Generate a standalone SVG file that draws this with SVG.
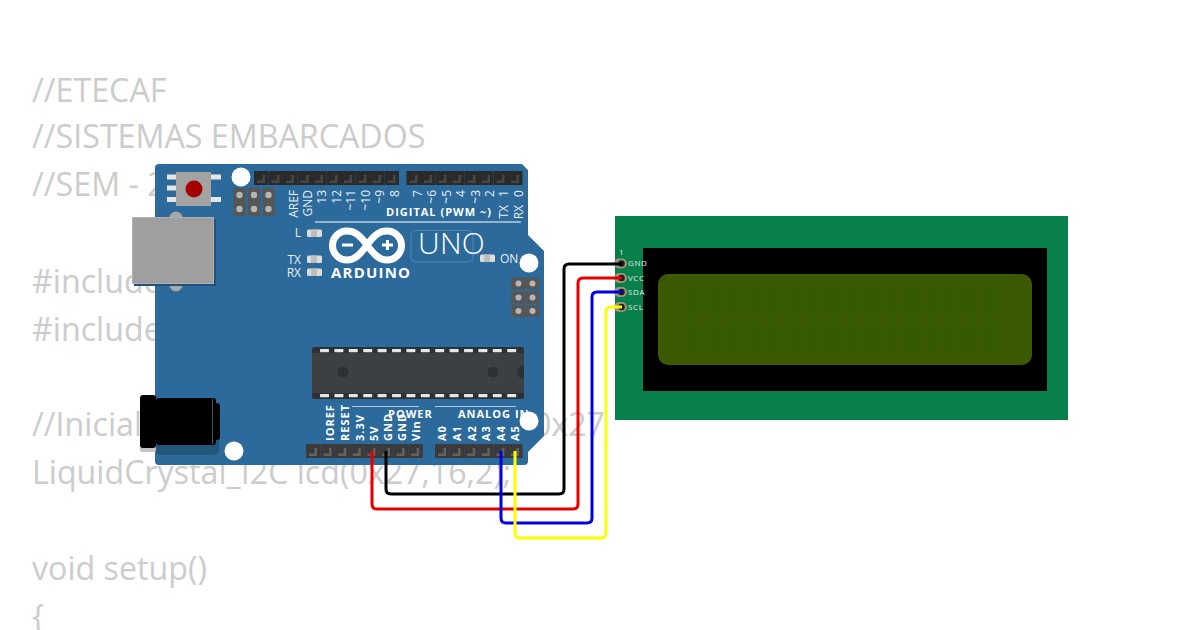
<svg xmlns="http://www.w3.org/2000/svg" xmlns:xlink="http://www.w3.org/1999/xlink" width="1200" height="630" viewBox="0 0 1200 630">
<style>
.code{font-family:"Open Sans","Noto Sans",sans-serif;font-size:32.2px;fill:#cccccc}
.s{font-family:"Open Sans","Noto Sans",sans-serif;font-size:12px;fill:#e8eef4}
.b{font-family:"Open Sans","Noto Sans",sans-serif;font-size:11px;font-weight:700;fill:#fff;letter-spacing:1px}
.lcdt{font-family:"Open Sans","Noto Sans",sans-serif;font-size:8px;fill:#e8e8e8;letter-spacing:.6px}
.wire{fill:none;stroke-width:3;stroke-linejoin:round}
.hole{fill:#fff}
.led{fill:#dcdcdc}
.cell{fill:#345a00}
.chipPin{fill:#e6e6e6}
</style>
<defs>
<g id="pinT"><rect width="14.5" height="14" fill="#2a2a2a"/><path d="M3 9.500H8.500V4H11V12H3Z" fill="#474744"/></g>
<g id="pinB"><rect width="14.6" height="14" fill="#3a3a3a"/><path d="M3 9.500H8.500V4H11V12H3Z" fill="#62625e"/></g>
<g id="led"><rect width="15" height="7.5" rx="1.5" class="led"/><rect x="4" width="6" height="7.5" fill="#bdbdbd"/></g>
<g id="icsp"><rect x="-6" y="-7" width="12" height="14" fill="#565656"/><circle r="3.2" fill="#b5b5b5"/></g>
<g id="icspR"><rect x="-7" y="-6" width="14" height="12" fill="#565656"/><circle r="3" fill="#b5b5b5"/></g>
<g id="chipPins"><rect width="9" height="3.2" rx=".6" class="chipPin"/></g>
<g id="lcdPad"><rect x="-6" y="-5" width="13" height="10" rx="5" fill="#9d9378"/><circle cx="1.5" r="3.2" fill="#1c1c1c"/></g>
</defs>

<g id="code-text">
<text class="code" x="32" y="101.500">//ETECAF</text>
<text class="code" x="32" y="147.500">//SISTEMAS EMBARCADOS</text>
<text class="code" x="32" y="195.500">//SEM - 2</text>
<text class="code" x="32" y="292.500">#include</text>
<text class="code" x="32" y="340.500">#include</text>
<text class="code" x="32" y="435.500">//Inicial</text>
<text class="code" x="605" y="435.500" text-anchor="end">0x27</text>
<text class="code" x="32" y="483.500">LiquidCrystal_I2C lcd(0x27,16,2);</text>
<text class="code" x="32" y="580">void setup()</text>
<text class="code" x="32" y="628">{</text>
</g>

<g id="arduino">
<path d="M159 164H522L528 170V235L544 251V436L528 452V461Q528 465 524 465H159Q155 465 155 461V168Q155 164 159 164Z" fill="#2b6a9b"/>
<g id="usb">
<circle cx="176" cy="218" r="6.5" fill="#a8a8a8"/><circle cx="176" cy="285" r="6.5" fill="#a8a8a8"/>
<rect x="134" y="219" width="82" height="67" fill="#1f5379"/>
<rect x="132.500" y="217.500" width="81" height="66" fill="#9f9f9f" stroke="#b0b0b0"/>
</g>
<g id="reset">
<rect x="167" y="174.500" width="10" height="5" fill="#e6e6e6"/><rect x="167" y="185.500" width="10" height="5" fill="#e6e6e6"/><rect x="167" y="197" width="10" height="5" fill="#e6e6e6"/>
<rect x="210" y="174.500" width="11" height="5" fill="#e6e6e6"/><rect x="210" y="197" width="11" height="5" fill="#e6e6e6"/>
<rect x="176" y="172" width="35" height="34" fill="#a3a3a3"/><circle cx="194" cy="189" r="8.500" fill="#a50000"/>
</g>
<g id="icsp1">
<use href="#icsp" x="239.500" y="195"/><use href="#icsp" x="254" y="195"/><use href="#icsp" x="268.500" y="195"/>
<use href="#icsp" x="239.500" y="209"/><use href="#icsp" x="254" y="209"/><use href="#icsp" x="268.500" y="209"/>
</g>
<g id="icsp2">
<use href="#icspR" x="518.500" y="283.500"/><use href="#icspR" x="532.500" y="283.500"/><use href="#icspR" x="518.500" y="297.500"/><use href="#icspR" x="532.500" y="297.500"/><use href="#icspR" x="518.500" y="311"/><use href="#icspR" x="532.500" y="311"/>
</g>
<g id="jack">
<rect x="156" y="405" width="63" height="50" rx="5" fill="#24567c"/>
<rect x="140" y="398" width="16" height="54" rx="2" fill="#c4c4c4"/>
<rect x="140" y="395" width="16" height="53" rx="3" fill="#000"/>
<rect x="156" y="398" width="60" height="47" rx="3" fill="#000"/>
<rect x="214" y="403" width="6" height="37" rx="3" fill="#000"/>
<rect x="212" y="399" width="1" height="45" fill="#555"/>
</g>
<circle class="hole" cx="241" cy="177" r="9.500"/><circle class="hole" cx="529" cy="263" r="9.500"/><circle class="hole" cx="234" cy="451" r="9.500"/><circle class="hole" cx="529" cy="421" r="9.500"/>
<g id="header-top">
<use href="#pinT" x="254" y="171"/><use href="#pinT" x="268.500" y="171"/><use href="#pinT" x="283" y="171"/><use href="#pinT" x="297.500" y="171"/><use href="#pinT" x="312" y="171"/><use href="#pinT" x="326.500" y="171"/><use href="#pinT" x="341" y="171"/><use href="#pinT" x="355.500" y="171"/><use href="#pinT" x="370" y="171"/><use href="#pinT" x="384.500" y="171"/>
<use href="#pinT" x="406.500" y="171"/><use href="#pinT" x="421" y="171"/><use href="#pinT" x="435.500" y="171"/><use href="#pinT" x="450" y="171"/><use href="#pinT" x="464.500" y="171"/><use href="#pinT" x="479" y="171"/><use href="#pinT" x="493.500" y="171"/><use href="#pinT" x="508" y="171"/>
</g>
<g id="header-bottom">
<use href="#pinB" x="306" y="444"/><use href="#pinB" x="320.600" y="444"/><use href="#pinB" x="335.200" y="444"/><use href="#pinB" x="349.800" y="444"/><use href="#pinB" x="364.400" y="444"/><use href="#pinB" x="379" y="444"/><use href="#pinB" x="393.600" y="444"/><use href="#pinB" x="408.200" y="444"/>
<use href="#pinB" x="435" y="444"/><use href="#pinB" x="449.600" y="444"/><use href="#pinB" x="464.200" y="444"/><use href="#pinB" x="478.800" y="444"/><use href="#pinB" x="493.400" y="444"/><use href="#pinB" x="508" y="444"/>
</g>
<g id="chip">
<rect x="312" y="347" width="212" height="52" rx="2" fill="#2e3133"/>
<rect x="312" y="353" width="212" height="40" fill="#3d4043"/>
<circle cx="343" cy="372" r="5.500" fill="#2e3133"/><circle cx="493" cy="372" r="5.500" fill="#2e3133"/><path d="M524 365A7 7 0 0 0 524 379Z" fill="#2e3133"/>
<use href="#chipPins" x="320" y="349"/><use href="#chipPins" x="334.400" y="349"/><use href="#chipPins" x="348.800" y="349"/><use href="#chipPins" x="363.200" y="349"/><use href="#chipPins" x="377.600" y="349"/><use href="#chipPins" x="392" y="349"/><use href="#chipPins" x="406.400" y="349"/><use href="#chipPins" x="420.800" y="349"/><use href="#chipPins" x="435.200" y="349"/><use href="#chipPins" x="449.600" y="349"/><use href="#chipPins" x="464" y="349"/><use href="#chipPins" x="478.400" y="349"/><use href="#chipPins" x="492.800" y="349"/><use href="#chipPins" x="507.200" y="349"/>
<use href="#chipPins" x="320" y="394"/><use href="#chipPins" x="334.400" y="394"/><use href="#chipPins" x="348.800" y="394"/><use href="#chipPins" x="363.200" y="394"/><use href="#chipPins" x="377.600" y="394"/><use href="#chipPins" x="392" y="394"/><use href="#chipPins" x="406.400" y="394"/><use href="#chipPins" x="420.800" y="394"/><use href="#chipPins" x="435.200" y="394"/><use href="#chipPins" x="449.600" y="394"/><use href="#chipPins" x="464" y="394"/><use href="#chipPins" x="478.400" y="394"/><use href="#chipPins" x="492.800" y="394"/><use href="#chipPins" x="507.200" y="394"/>
</g>
<g id="leds">
<use href="#led" x="307" y="229.500"/><use href="#led" x="307" y="255.500"/><use href="#led" x="307" y="268.500"/><use href="#led" x="480" y="254.500"/>
</g>
<g id="logo">
<path d="M367 245C359 234 354 231 347 231A14 14 0 0 0 347 260C354 260 359 256 367 245C375 234 380 231 387 231A14 14 0 0 1 387 260C380 260 375 256 367 245Z" fill="none" stroke="#fff" stroke-width="7"/>
<rect x="342" y="243.500" width="11" height="3" fill="#fff"/><rect x="382" y="243.500" width="11" height="3" fill="#fff"/><rect x="386" y="240" width="3" height="10" fill="#fff"/>
<text x="331" y="278" style="font-family:'Open Sans','Noto Sans',sans-serif;font-size:15px;font-weight:700;fill:#fff;letter-spacing:1.2px">ARDUINO</text>
<rect x="411" y="230.500" width="62" height="31.500" rx="5" fill="none" stroke="#5288b3"/>
<text x="418" y="254" style="font-family:'Open Sans','Noto Sans',sans-serif;font-size:30px;font-weight:300;fill:#fff;letter-spacing:.3px">UNO</text>
</g>
<g id="board-labels">
<text class="s" x="301" y="237" text-anchor="end">L</text>
<text class="s" x="301" y="264" text-anchor="end">TX</text>
<text class="s" x="301" y="277" text-anchor="end">RX</text>
<text class="s" x="500" y="263">ON</text>
<text class="b" x="386" y="216">DIGITAL (PWM ~)</text>
<rect x="315" y="221.500" width="206" height="1" fill="#fff"/>
<g text-anchor="end">
<text class="s" transform="translate(297.500,190) rotate(-90)">AREF</text>
<text class="s" transform="translate(311.500,190) rotate(-90)">GND</text>
<text class="s" transform="translate(326,190) rotate(-90)">13</text>
<text class="s" transform="translate(340.500,190) rotate(-90)">12</text>
<text class="s" transform="translate(355,190) rotate(-90)">~11</text>
<text class="s" transform="translate(369.500,190) rotate(-90)">~10</text>
<text class="s" transform="translate(384,190) rotate(-90)">~9</text>
<text class="s" transform="translate(398.500,190) rotate(-90)">8</text>
<text class="s" transform="translate(421.500,190) rotate(-90)">7</text>
<text class="s" transform="translate(436,190) rotate(-90)">~6</text>
<text class="s" transform="translate(450.500,190) rotate(-90)">~5</text>
<text class="s" transform="translate(465,190) rotate(-90)">4</text>
<text class="s" transform="translate(479.500,190) rotate(-90)">~3</text>
<text class="s" transform="translate(494,190) rotate(-90)">2</text>
<text class="s" transform="translate(508,190) rotate(-90)">1</text>
<text class="s" transform="translate(522.500,190) rotate(-90)">0</text>
<text class="s" transform="translate(508,205) rotate(-90)">TX</text>
<text class="s" transform="translate(522.500,205) rotate(-90)">RX</text>
</g>
<rect x="352" y="406" width="67" height="1" fill="#a9cbe6"/><rect x="435" y="406" width="81" height="1" fill="#a9cbe6"/>
<text class="b" x="388" y="418">POWER</text>
<text class="b" x="458" y="418">ANALOG IN</text>
<text class="b" transform="translate(334,441) rotate(-90)">IOREF</text>
<text class="b" transform="translate(349,441) rotate(-90)">RESET</text>
<text class="b" transform="translate(363.500,441) rotate(-90)">3.3V</text>
<text class="b" transform="translate(377.500,441) rotate(-90)">5V</text>
<text class="b" transform="translate(391.500,441) rotate(-90)">GND</text>
<text class="b" transform="translate(406,441) rotate(-90)">GND</text>
<text class="b" transform="translate(420,441) rotate(-90)">Vin</text>
<text class="b" transform="translate(446,441) rotate(-90)">A0</text>
<text class="b" transform="translate(461,441) rotate(-90)">A1</text>
<text class="b" transform="translate(475.500,441) rotate(-90)">A2</text>
<text class="b" transform="translate(490,441) rotate(-90)">A3</text>
<text class="b" transform="translate(504.500,441) rotate(-90)">A4</text>
<text class="b" transform="translate(519,441) rotate(-90)">A5</text>
</g>
</g>

<g id="lcd">
<rect x="615" y="216" width="453" height="204" fill="#08804a"/>
<rect x="643" y="248" width="404" height="143" fill="#000"/>
<rect x="658" y="274" width="374" height="91" rx="10" fill="#3b5a00"/>
<g id="lcd-cells" opacity=".6">
<path class="cell" d="M686 287h16v30h-16zM705.800 287h16v30h-16zM725.600 287h16v30h-16zM745.400 287h16v30h-16zM765.200 287h16v30h-16zM785 287h16v30h-16zM804.800 287h16v30h-16zM824.600 287h16v30h-16zM844.400 287h16v30h-16zM864.200 287h16v30h-16zM884 287h16v30h-16zM903.800 287h16v30h-16zM923.600 287h16v30h-16zM943.400 287h16v30h-16zM963.200 287h16v30h-16zM983 287h16v30h-16z"/>
<path class="cell" d="M686 322h16v30h-16zM705.800 322h16v30h-16zM725.600 322h16v30h-16zM745.400 322h16v30h-16zM765.200 322h16v30h-16zM785 322h16v30h-16zM804.800 322h16v30h-16zM824.600 322h16v30h-16zM844.400 322h16v30h-16zM864.200 322h16v30h-16zM884 322h16v30h-16zM903.800 322h16v30h-16zM923.600 322h16v30h-16zM943.400 322h16v30h-16zM963.200 322h16v30h-16zM983 322h16v30h-16z"/>
</g>
<use href="#lcdPad" x="620" y="263.500"/><use href="#lcdPad" x="620" y="278"/><use href="#lcdPad" x="620" y="292"/><use href="#lcdPad" x="620" y="307"/>
<text class="lcdt" x="619" y="255">1</text>
<text class="lcdt" x="628" y="266">GND</text>
<text class="lcdt" x="628" y="281">VCC</text>
<text class="lcdt" x="628" y="295">SDA</text>
<text class="lcdt" x="628" y="310">SCL</text>
</g>

<g id="connectors">
<path class="wire" stroke="#000" d="M386 451V489Q386 494 391 494H559Q564 494 564 489V269Q564 264 569 264H622"/>
<path class="wire" stroke="#e60000" d="M372 451V504Q372 509 377 509H573Q578 509 578 504V283Q578 278 583 278H622"/>
<path class="wire" stroke="#0000e6" d="M501 451V518Q501 523 506 523H587Q592 523 592 518V297Q592 292 597 292H622"/>
<path class="wire" stroke="#ffff00" d="M515 451V533Q515 538 520 538H601Q606 538 606 533V312Q606 307 611 307H622"/>
</g>
</svg>
